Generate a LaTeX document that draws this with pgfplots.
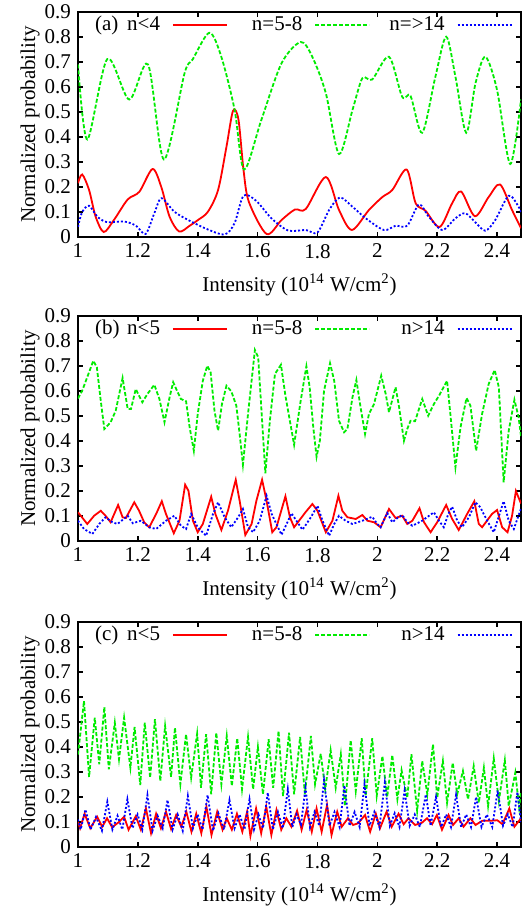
\documentclass[border=0pt]{standalone}
\usepackage{pgfplots}
\pgfplotsset{compat=1.18}
\usepackage{fontspec}
\setmainfont{Liberation Serif}
\definecolor{gred}{RGB}{255,0,0}
\definecolor{ggreen}{RGB}{0,235,0}
\definecolor{gblue}{RGB}{0,0,255}
\pgfplotsset{
  panel/.style={
    scale only axis, width=221.5pt, height=112.5pt,
    xmin=1, xmax=2.48, ymin=0, ymax=0.9,
    xtick={1,1.2,1.4,1.6,1.8,2,2.2,2.4},
    ytick={0,0.1,0.2,0.3,0.4,0.5,0.6,0.7,0.8,0.9},
    tick align=inside, major tick length=2.3pt,
    axis line style={line width=1pt},
    every tick/.style={black, line width=0.8pt},
    /pgf/number format/assume math mode=true,
    tick label style={font=\fontsize{10.5}{12}\selectfont},
    label style={font=\fontsize{10.5}{12}\selectfont},
    ylabel={Normalized probability},
    ylabel style={at={(axis description cs:-0.108,0.5)}, anchor=center},
    xlabel={Intensity (10\textsuperscript{14} W/cm\textsuperscript{2})},
    xlabel style={at={(axis description cs:0.5,-0.244)}, anchor=base},
    legend columns=3,
    legend plot pos=right,
    legend image code/.code={\draw[##1] (6pt,0pt) -- (33pt,0pt); \path (0pt,0pt) (40.25pt,0pt);},
    legend style={draw=none, fill=none, at={(axis description cs:0.0497,0.942)}, anchor=west,
      inner sep=0pt, outer sep=0pt, nodes={inner sep=0pt}, font=\fontsize{10.5}{12}\selectfont},
  },
  sred/.style={color=gred, line width=0.9pt, solid},
  sgreen/.style={color=ggreen, line width=0.9pt, dash pattern=on 2pt off 1pt},
  sblue/.style={color=gblue, line width=0.9pt, dash pattern=on 1pt off 1pt},
}
\begin{document}
\begin{tikzpicture}
\useasboundingbox (0,0) rectangle (264pt,455pt);
% ---------------- panel (a)
\begin{axis}[panel, at={(39pt,336.5pt)}, anchor=south west]
\addplot[sred, smooth] coordinates {(1.0,0.215) (1.014,0.25) (1.037,0.188) (1.059,0.081) (1.086,0.02) (1.12,0.068) (1.166,0.15) (1.205,0.181) (1.249,0.272) (1.278,0.201) (1.306,0.081) (1.338,0.022) (1.373,0.045) (1.401,0.068) (1.434,0.101) (1.468,0.188) (1.496,0.361) (1.518,0.505) (1.536,0.47) (1.553,0.268) (1.571,0.14) (1.63,0.012) (1.68,0.068) (1.725,0.11) (1.761,0.112) (1.828,0.24) (1.872,0.108) (1.915,0.028) (1.972,0.108) (2.017,0.16) (2.05,0.188) (2.098,0.27) (2.128,0.135) (2.161,0.105) (2.208,0.04) (2.25,0.135) (2.28,0.182) (2.326,0.083) (2.372,0.16) (2.41,0.21) (2.45,0.108) (2.48,0.035)};
\addlegendentry{\makebox[30pt][r]{n<4}}
\addplot[sgreen, smooth] coordinates {(1.0,0.69) (1.031,0.39) (1.098,0.712) (1.171,0.55) (1.234,0.69) (1.287,0.31) (1.356,0.655) (1.383,0.71) (1.439,0.817) (1.479,0.72) (1.523,0.51) (1.555,0.27) (1.613,0.47) (1.68,0.695) (1.744,0.78) (1.783,0.72) (1.828,0.575) (1.872,0.332) (1.917,0.508) (1.95,0.635) (1.983,0.63) (2.039,0.721) (2.083,0.561) (2.111,0.564) (2.15,0.417) (2.194,0.641) (2.23,0.801) (2.261,0.641) (2.297,0.417) (2.328,0.615) (2.361,0.721) (2.4,0.588) (2.444,0.292) (2.48,0.55)};
\addlegendentry{\makebox[30pt][r]{n=5-8}}
\addplot[sblue, smooth] coordinates {(1.0,0.041) (1.014,0.1) (1.037,0.125) (1.065,0.081) (1.098,0.059) (1.154,0.062) (1.194,0.045) (1.226,0.012) (1.255,0.095) (1.279,0.155) (1.322,0.101) (1.373,0.065) (1.434,0.03) (1.49,0.01) (1.523,0.055) (1.553,0.165) (1.595,0.145) (1.646,0.075) (1.702,0.026) (1.761,0.028) (1.8,0.018) (1.839,0.108) (1.875,0.158) (1.917,0.121) (1.961,0.075) (2.022,0.028) (2.061,0.045) (2.1,0.045) (2.139,0.13) (2.172,0.081) (2.217,0.028) (2.261,0.075) (2.294,0.095) (2.328,0.058) (2.361,0.025) (2.394,0.068) (2.439,0.165) (2.472,0.121) (2.48,0.1)};
\addlegendentry{\makebox[30pt][r]{n=>14}}
\node[anchor=west, font=\fontsize{10.5}{12}\selectfont] at (axis description cs:0.0226,0.942) {(a)};
\end{axis}
% ---------------- panel (b)
\begin{axis}[panel, at={(39pt,184.5pt)}, anchor=south west]
\addplot[sred] coordinates {(1.0,0.115) (1.031,0.068) (1.054,0.101) (1.076,0.121) (1.092,0.101) (1.109,0.075) (1.134,0.144) (1.149,0.095) (1.16,0.092) (1.188,0.155) (1.204,0.121) (1.221,0.075) (1.238,0.055) (1.261,0.108) (1.28,0.159) (1.294,0.108) (1.32,0.031) (1.339,0.081) (1.358,0.225) (1.369,0.201) (1.384,0.081) (1.4,0.035) (1.417,0.068) (1.445,0.177) (1.459,0.108) (1.479,0.044) (1.501,0.121) (1.527,0.245) (1.54,0.161) (1.559,0.024) (1.58,0.068) (1.596,0.161) (1.615,0.245) (1.63,0.161) (1.649,0.035) (1.663,0.055) (1.693,0.179) (1.708,0.095) (1.722,0.055) (1.76,0.115) (1.783,0.148) (1.8,0.121) (1.828,0.035) (1.85,0.081) (1.87,0.181) (1.883,0.121) (1.9,0.095) (1.928,0.088) (1.95,0.104) (1.967,0.081) (1.989,0.075) (2.011,0.055) (2.039,0.128) (2.061,0.092) (2.083,0.101) (2.1,0.068) (2.117,0.081) (2.141,0.131) (2.156,0.075) (2.178,0.035) (2.2,0.075) (2.23,0.144) (2.25,0.088) (2.272,0.044) (2.3,0.108) (2.324,0.159) (2.339,0.068) (2.35,0.055) (2.383,0.108) (2.4,0.124) (2.417,0.055) (2.435,0.035) (2.45,0.1) (2.463,0.2) (2.48,0.15)};
\addlegendentry{\makebox[30pt][r]{n<5}}
\addplot[sgreen] coordinates {(1.0,0.57) (1.014,0.601) (1.037,0.675) (1.051,0.721) (1.063,0.695) (1.076,0.561) (1.088,0.448) (1.109,0.475) (1.126,0.521) (1.149,0.652) (1.166,0.528) (1.177,0.528) (1.193,0.608) (1.204,0.581) (1.215,0.555) (1.232,0.588) (1.255,0.625) (1.272,0.568) (1.289,0.475) (1.306,0.575) (1.318,0.635) (1.333,0.595) (1.344,0.568) (1.361,0.559) (1.373,0.455) (1.387,0.361) (1.4,0.508) (1.417,0.641) (1.432,0.701) (1.443,0.675) (1.456,0.521) (1.468,0.441) (1.481,0.548) (1.496,0.621) (1.512,0.599) (1.529,0.541) (1.54,0.428) (1.551,0.305) (1.568,0.508) (1.591,0.764) (1.602,0.735) (1.613,0.521) (1.626,0.271) (1.641,0.481) (1.658,0.668) (1.678,0.705) (1.693,0.581) (1.722,0.385) (1.744,0.561) (1.763,0.699) (1.774,0.615) (1.786,0.455) (1.797,0.337) (1.808,0.401) (1.822,0.601) (1.842,0.711) (1.856,0.641) (1.872,0.481) (1.889,0.435) (1.9,0.448) (1.917,0.575) (1.93,0.644) (1.944,0.535) (1.959,0.428) (1.972,0.508) (1.989,0.548) (2.013,0.661) (2.028,0.588) (2.039,0.515) (2.061,0.615) (2.072,0.541) (2.089,0.401) (2.1,0.448) (2.111,0.481) (2.126,0.479) (2.15,0.568) (2.17,0.501) (2.189,0.548) (2.206,0.581) (2.233,0.641) (2.244,0.508) (2.261,0.295) (2.278,0.455) (2.298,0.572) (2.311,0.541) (2.33,0.361) (2.35,0.508) (2.372,0.628) (2.392,0.684) (2.406,0.615) (2.422,0.235) (2.439,0.441) (2.458,0.565) (2.472,0.495) (2.48,0.42)};
\addlegendentry{\makebox[30pt][r]{n=5-8}}
\addplot[sblue] coordinates {(1.0,0.081) (1.02,0.048) (1.048,0.028) (1.071,0.068) (1.092,0.095) (1.115,0.075) (1.132,0.068) (1.166,0.101) (1.183,0.071) (1.21,0.081) (1.238,0.055) (1.261,0.048) (1.294,0.081) (1.322,0.101) (1.344,0.061) (1.361,0.048) (1.378,0.108) (1.4,0.055) (1.428,0.021) (1.451,0.108) (1.468,0.155) (1.49,0.095) (1.512,0.055) (1.535,0.095) (1.551,0.128) (1.568,0.055) (1.585,0.035) (1.607,0.081) (1.63,0.181) (1.647,0.108) (1.68,0.025) (1.702,0.081) (1.713,0.111) (1.75,0.045) (1.778,0.095) (1.8,0.141) (1.817,0.081) (1.839,0.021) (1.856,0.068) (1.872,0.101) (1.894,0.081) (1.917,0.068) (1.95,0.081) (1.983,0.097) (2.0,0.068) (2.011,0.055) (2.033,0.112) (2.05,0.075) (2.067,0.092) (2.083,0.104) (2.1,0.075) (2.117,0.061) (2.15,0.081) (2.189,0.115) (2.206,0.081) (2.222,0.055) (2.237,0.108) (2.25,0.137) (2.267,0.081) (2.283,0.055) (2.306,0.095) (2.328,0.155) (2.344,0.135) (2.367,0.081) (2.389,0.035) (2.422,0.159) (2.439,0.081) (2.456,0.048) (2.48,0.13)};
\addlegendentry{\makebox[30pt][r]{n>14}}
\node[anchor=west, font=\fontsize{10.5}{12}\selectfont] at (axis description cs:0.0226,0.942) {(b)};
\end{axis}
% ---------------- panel (c)
\begin{axis}[panel, at={(39pt,31.5pt)}, anchor=south west]
\addplot[sred] coordinates {(1.0,0.1) (1.007,0.075) (1.022,0.133) (1.041,0.075) (1.064,0.121) (1.081,0.081) (1.097,0.115) (1.114,0.079) (1.137,0.1) (1.154,0.121) (1.169,0.069) (1.193,0.123) (1.21,0.069) (1.227,0.154) (1.244,0.055) (1.261,0.133) (1.277,0.075) (1.294,0.141) (1.311,0.072) (1.328,0.128) (1.345,0.081) (1.362,0.141) (1.379,0.061) (1.395,0.133) (1.412,0.055) (1.429,0.161) (1.446,0.048) (1.465,0.141) (1.483,0.069) (1.497,0.115) (1.514,0.069) (1.531,0.133) (1.549,0.061) (1.565,0.141) (1.576,0.044) (1.595,0.154) (1.612,0.055) (1.629,0.161) (1.646,0.048) (1.663,0.148) (1.679,0.069) (1.696,0.115) (1.713,0.081) (1.732,0.145) (1.747,0.069) (1.764,0.148) (1.781,0.061) (1.797,0.154) (1.814,0.061) (1.832,0.168) (1.847,0.048) (1.866,0.141) (1.881,0.081) (1.902,0.115) (1.919,0.088) (1.936,0.095) (1.959,0.128) (1.976,0.061) (1.995,0.133) (2.009,0.075) (2.031,0.141) (2.048,0.081) (2.071,0.133) (2.088,0.091) (2.104,0.115) (2.126,0.088) (2.149,0.097) (2.166,0.115) (2.183,0.091) (2.199,0.128) (2.216,0.069) (2.238,0.128) (2.253,0.088) (2.272,0.115) (2.288,0.081) (2.311,0.115) (2.328,0.088) (2.351,0.105) (2.378,0.105) (2.401,0.107) (2.418,0.091) (2.441,0.154) (2.458,0.081) (2.48,0.115)};
\addlegendentry{\makebox[30pt][r]{n<5}}
\addplot[sgreen] coordinates {(1.0,0.37) (1.02,0.584) (1.037,0.28) (1.056,0.517) (1.071,0.331) (1.088,0.56) (1.103,0.311) (1.123,0.497) (1.137,0.351) (1.154,0.517) (1.175,0.317) (1.189,0.48) (1.208,0.248) (1.223,0.497) (1.241,0.277) (1.257,0.511) (1.275,0.264) (1.291,0.484) (1.311,0.28) (1.324,0.477) (1.342,0.251) (1.361,0.451) (1.378,0.277) (1.398,0.453) (1.411,0.237) (1.428,0.451) (1.445,0.211) (1.462,0.457) (1.479,0.251) (1.497,0.444) (1.514,0.244) (1.532,0.435) (1.548,0.231) (1.568,0.44) (1.585,0.231) (1.601,0.4) (1.618,0.211) (1.637,0.431) (1.652,0.237) (1.67,0.464) (1.685,0.204) (1.705,0.457) (1.722,0.211) (1.742,0.44) (1.758,0.211) (1.778,0.444) (1.792,0.251) (1.811,0.373) (1.826,0.231) (1.844,0.387) (1.861,0.237) (1.878,0.371) (1.892,0.164) (1.911,0.427) (1.928,0.224) (1.948,0.435) (1.961,0.204) (1.983,0.435) (1.998,0.204) (2.017,0.364) (2.033,0.2) (2.05,0.368) (2.067,0.191) (2.081,0.307) (2.1,0.197) (2.114,0.371) (2.133,0.144) (2.15,0.344) (2.167,0.211) (2.186,0.411) (2.2,0.197) (2.219,0.344) (2.233,0.177) (2.252,0.337) (2.267,0.211) (2.286,0.304) (2.303,0.191) (2.322,0.324) (2.339,0.177) (2.356,0.317) (2.37,0.164) (2.389,0.355) (2.406,0.184) (2.426,0.347) (2.439,0.164) (2.461,0.297) (2.474,0.157) (2.48,0.22)};
\addlegendentry{\makebox[30pt][r]{n=5-8}}
\addplot[sblue] coordinates {(1.0,0.11) (1.009,0.07) (1.025,0.15) (1.042,0.07) (1.06,0.12) (1.08,0.065) (1.098,0.181) (1.115,0.07) (1.132,0.125) (1.148,0.07) (1.165,0.191) (1.182,0.075) (1.199,0.13) (1.215,0.07) (1.232,0.208) (1.249,0.065) (1.266,0.125) (1.283,0.075) (1.299,0.188) (1.316,0.07) (1.333,0.13) (1.35,0.065) (1.367,0.204) (1.384,0.075) (1.4,0.13) (1.416,0.07) (1.433,0.208) (1.451,0.065) (1.469,0.135) (1.488,0.07) (1.506,0.188) (1.523,0.075) (1.54,0.13) (1.556,0.07) (1.573,0.191) (1.588,0.07) (1.603,0.13) (1.618,0.075) (1.634,0.217) (1.651,0.07) (1.668,0.14) (1.684,0.075) (1.701,0.231) (1.716,0.08) (1.73,0.13) (1.745,0.09) (1.76,0.237) (1.775,0.08) (1.79,0.14) (1.806,0.085) (1.822,0.267) (1.84,0.085) (1.857,0.14) (1.874,0.08) (1.89,0.246) (1.907,0.085) (1.924,0.14) (1.941,0.08) (1.957,0.25) (1.974,0.085) (1.99,0.14) (2.007,0.08) (2.025,0.257) (2.042,0.085) (2.058,0.135) (2.074,0.08) (2.091,0.225) (2.108,0.085) (2.125,0.13) (2.142,0.08) (2.162,0.21) (2.178,0.085) (2.196,0.2) (2.213,0.08) (2.23,0.13) (2.246,0.08) (2.263,0.208) (2.28,0.08) (2.297,0.13) (2.313,0.08) (2.33,0.2) (2.348,0.08) (2.366,0.13) (2.384,0.08) (2.402,0.226) (2.42,0.085) (2.436,0.13) (2.452,0.08) (2.468,0.22) (2.48,0.1)};
\addlegendentry{\makebox[30pt][r]{n>14}}
\node[anchor=west, font=\fontsize{10.5}{12}\selectfont] at (axis description cs:0.0226,0.942) {(c)};
\end{axis}
\end{tikzpicture}
\end{document}
